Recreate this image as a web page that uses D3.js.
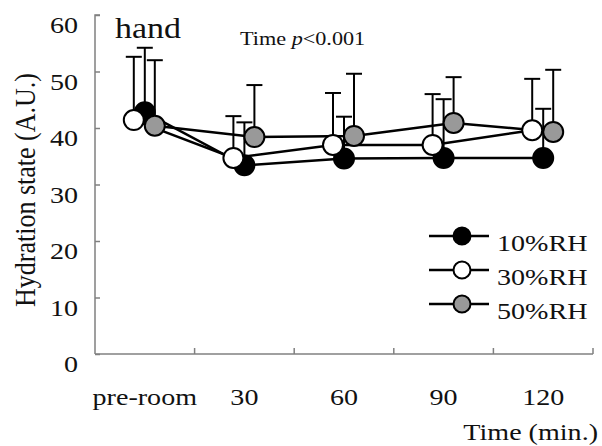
<!DOCTYPE html>
<html><head><meta charset="utf-8">
<script src="https://cdn.jsdelivr.net/npm/d3@7"></script>
<style>
html,body{margin:0;padding:0;background:#fff;}
text{font-family:"Liberation Serif","Times New Roman",serif;fill:#111;}
</style></head>
<body><svg id="c" width="602" height="446"></svg>
<script>
const categories = ["pre-room","30","60","90","120"];
const yTicks = [0,10,20,30,40,50,60];
const seriesNames = ["10%RH","30%RH","50%RH"];
const rh10 = [42.8, 33.4, 34.6, 34.7, 34.7];
const sd10 = [11.4, 7.6, 7.4, 10.4, 8.7];
const rh30 = [41.4, 34.7, 37.0, 37.0, 39.6];
const sd30 = [11.2, 7.4, 9.2, 9.0, 9.1];
const rh50 = [40.4, 38.4, 38.6, 40.9, 39.3];
const sd50 = [11.6, 9.2, 11.0, 8.1, 11.0];
const fills = ["#000000","#ffffff","#999999"];
const offsets = [0, -11, 10];

const svg = d3.select("#c");
const SX = 1.17;
function txt(x, y, s, size, anchor, extra){
  const t = svg.append("text")
    .attr("transform", `translate(${x},${y}) scale(${SX},1)` + (extra||""))
    .attr("font-size", size).attr("text-anchor", anchor||"start");
  return t.text(s);
}

const x0 = 95, x1 = 593, yB = 354, yT = 15;
const xb = d3.scaleBand().domain(categories).range([x0, x1]).padding(0);
const xp = d3.scalePoint().domain(categories).range([x0, x1]).padding(0.5);
const y = d3.scaleLinear().domain([0, 60]).range([yB, yT]);

const axisCol = "#808080";
// y axis
const ya = svg.append("g").attr("transform", `translate(${x0},0)`)
  .call(d3.axisRight(y).tickValues(yTicks).tickSize(5).tickFormat(""));
ya.selectAll("path,line").attr("stroke", axisCol).attr("stroke-width", 1.5);
ya.select(".domain").attr("d", `M5,${yT}H0V${yB}`);
yTicks.forEach(v => txt(78, y(v) + 18, String(v), 24, "end"));

// x axis
const xa = svg.append("g").attr("transform", `translate(0,${yB})`)
  .call(d3.axisTop(xb).tickSize(0).tickFormat(""));
xa.select(".domain").attr("stroke", axisCol).attr("stroke-width", 1.5)
  .attr("d", `M${x0},0H${x1}`);
const bounds = categories.slice(1).map(c => xb(c)).concat([x1]);
svg.append("g").selectAll("line").data(bounds).join("line")
  .attr("x1", d => d).attr("x2", d => d).attr("y1", yB).attr("y2", yB - 6)
  .attr("stroke", axisCol).attr("stroke-width", 1.5);
categories.forEach(c => txt(xp(c), 405, c, 24, "middle"));
txt(598, 440, "Time (min.)", 24, "end");

// y title
svg.append("text")
  .attr("transform", `translate(35,190) scale(${SX},1) rotate(-90)`)
  .attr("font-size", 26).attr("text-anchor", "middle")
  .text("Hydration state (A.U.)");

// annotations
txt(115, 38, "hand", 29, "start");
const ann = txt(240, 45, "", 19, "start");
ann.append("tspan").text("Time ");
ann.append("tspan").attr("font-style", "italic").text("p");
ann.append("tspan").text("<0.001");

const series = [
  {name: seriesNames[0], v: rh10, sd: sd10},
  {name: seriesNames[1], v: rh30, sd: sd30},
  {name: seriesNames[2], v: rh50, sd: sd50}
];
const R = 10, cap = 8;
const px = (si, i) => xp(categories[i]) + offsets[si];

// error bars
series.forEach((s, si) => {
  const g = svg.append("g");
  s.v.forEach((v, i) => {
    const cx = px(si, i), top = y(v + s.sd[i]);
    g.append("line").attr("x1", cx).attr("x2", cx).attr("y1", y(v)).attr("y2", top)
      .attr("stroke", "#000").attr("stroke-width", 2);
    g.append("line").attr("x1", cx - cap).attr("x2", cx + cap).attr("y1", top).attr("y2", top)
      .attr("stroke", "#000").attr("stroke-width", 2);
  });
});
// lines
series.forEach((s, si) => {
  const line = d3.line().x((d, i) => px(si, i)).y(d => y(d));
  svg.append("path").attr("d", line(s.v)).attr("fill", "none")
    .attr("stroke", "#000").attr("stroke-width", 2.5);
});
// markers
series.forEach((s, si) => {
  svg.append("g").selectAll("circle").data(s.v).join("circle")
    .attr("cx", (d, i) => px(si, i)).attr("cy", d => y(d)).attr("r", R)
    .attr("fill", fills[si]).attr("stroke", "#000").attr("stroke-width", 2);
});

// legend
const legY = [236, 270, 304];
series.forEach((s, si) => {
  const ly = legY[si];
  svg.append("line").attr("x1", 429).attr("x2", 489).attr("y1", ly).attr("y2", ly)
    .attr("stroke", "#000").attr("stroke-width", 2.5);
  svg.append("circle").attr("cx", 462).attr("cy", ly).attr("r", 8.5)
    .attr("fill", fills[si]).attr("stroke", "#000").attr("stroke-width", 2);
  txt(497, ly + 15, s.name, 24, "start");
});
</script></body></html>
